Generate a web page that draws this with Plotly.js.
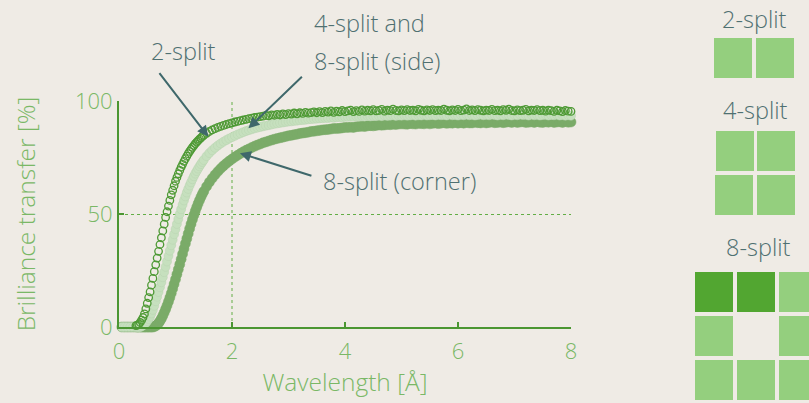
<!DOCTYPE html>
<html>
<head>
<meta charset="utf-8">
<script src="https://cdn.plot.ly/plotly-3.0.1.min.js"></script>
<style>
html,body{margin:0;padding:0;background:#efebe5;}
#chart{width:809px;height:403px;}
</style>
</head>
<body>
<div id="chart"></div>
<script>
// Wavelength [Å]
const wavelength = [
  0.05,0.1,0.15,0.2,0.25,0.3,
  0.325,0.35,0.375,0.4,0.425,0.45,0.475,0.5,
  0.525,0.55,0.575,0.6,0.625,0.65,0.675,0.7,
  0.725,0.75,0.775,0.8,0.825,0.85,0.875,0.9,
  0.925,0.95,0.975,1.0,1.025,1.05,1.075,1.1,
  1.125,1.15,1.175,1.2,1.225,1.25,1.275,1.3,
  1.325,1.35,1.375,1.4,1.425,1.45,1.475,1.5,
  1.55,1.6,1.65,1.7,1.75,1.8,1.85,1.9,1.95,2.0,
  2.05,2.1,2.15,2.2,2.25,2.3,2.35,2.4,2.45,2.5,
  2.55,2.6,2.65,2.7,2.75,2.8,2.85,2.9,2.95,3.0,
  3.05,3.1,3.15,3.2,3.25,3.3,3.35,3.4,3.45,3.5,
  3.55,3.6,3.65,3.7,3.75,3.8,3.85,3.9,3.95,4.0,
  4.05,4.1,4.15,4.2,4.25,4.3,4.35,4.4,4.45,4.5,
  4.55,4.6,4.65,4.7,4.75,4.8,4.85,4.9,4.95,5.0,
  5.05,5.1,5.15,5.2,5.25,5.3,5.35,5.4,5.45,5.5,
  5.55,5.6,5.65,5.7,5.75,5.8,5.85,5.9,5.95,6.0,
  6.05,6.1,6.15,6.2,6.25,6.3,6.35,6.4,6.45,6.5,
  6.55,6.6,6.65,6.7,6.75,6.8,6.85,6.9,6.95,7.0,
  7.05,7.1,7.15,7.2,7.25,7.3,7.35,7.4,7.45,7.5,
  7.55,7.6,7.65,7.7,7.75,7.8,7.85,7.9,7.95,8.0
];

// Brilliance transfer [%] — 2-split
const split2 = [
  null,null,null,null,null,0.6,
  0.8,1.2,2,3,4.2,5.8,8,10.5,
  13,15.5,18.5,21.5,24.5,27.5,30.5,33.5,
  36.5,39.5,42.5,45.5,48.5,51,53.5,56,
  58.5,60.5,62.5,64.5,66.2,67.8,69.3,70.7,
  72,73.3,74.5,75.6,76.7,77.7,78.6,79.5,
  80.3,81.1,81.8,82.5,83.1,83.7,84.3,84.8,
  85.7,86.5,87.2,87.8,88.3,88.8,89.2,89.6,90.0,90.3,
  90.7,91.0,91.3,91.6,91.9,92.2,92.4,92.7,92.9,93.1,
  93.3,93.6,93.4,93.9,93.7,94.1,93.8,94.3,94.0,94.4,
  94.2,94.7,94.3,94.8,94.5,95.0,94.6,94.9,95.2,94.8,
  95.3,94.9,95.4,95.1,95.6,95.0,95.5,95.2,95.8,95.3,
  95.6,96.0,95.3,95.7,95.4,96.1,95.5,95.9,95.6,96.2,
  95.6,95.8,96.3,95.5,96.0,95.7,96.4,95.8,95.6,96.1,
  95.7,96.2,95.8,96.0,95.6,96.3,95.9,95.6,96.1,95.8,
  96.2,95.7,96.0,95.8,96.4,95.9,95.6,96.1,95.8,96.3,
  95.7,96.0,96.5,95.8,96.1,95.7,96.2,95.9,95.6,96.0,
  95.8,96.3,95.7,96.0,95.6,96.2,95.9,96.4,95.8,95.6,
  96.1,95.7,95.9,96.3,95.6,96.0,95.8,96.2,95.7,95.9,
  95.5,96.0,95.7,95.4,95.9,95.6,95.3,95.8,95.5,95.4
];

// 4-split and 8-split (side)
const split4 = [
  0,0,0,0,0,0,
  0,0,0,0.3,0.7,1.2,1.8,2.6,
  3.5,4.6,6,7.6,9.4,11.4,13.4,15.5,
  17.6,19.8,22,24.3,26.6,29,31.4,33.8,
  36.2,38.6,41,43.3,45.6,47.8,50,52.1,
  54.1,56,57.8,59.5,61.1,62.6,64,65.4,
  66.7,67.9,69,70.1,71.1,72.1,73,73.9,
  75.6,77.0,78.2,79.3,80.3,81.2,82.0,82.7,83.4,84.0,
  84.6,85.2,85.7,86.2,86.7,87.1,87.5,87.9,88.2,88.5,
  88.8,89.1,89.3,89.6,89.9,90.1,90.3,90.5,90.7,90.9,
  91.0,91.2,91.3,91.5,91.6,91.7,91.9,92.0,92.1,92.2,
  92.3,92.4,92.5,92.5,92.7,92.6,92.8,92.9,92.8,93.0,
  93.0,93.1,93.0,93.2,93.1,93.3,93.2,93.4,93.2,93.4,
  93.3,93.5,93.3,93.6,93.4,93.5,93.7,93.4,93.6,93.5,
  93.7,93.5,93.6,93.8,93.5,93.7,93.6,93.9,93.6,93.7,
  93.8,93.6,93.9,93.7,93.8,93.6,94.0,93.7,93.8,93.6,
  93.9,93.7,94.0,93.7,93.9,93.6,93.8,94.0,93.7,93.9,
  93.7,94.0,93.8,93.6,93.9,93.7,94.0,93.8,93.6,93.9,
  93.7,94.0,93.8,93.9,93.6,94.0,93.7,93.9,93.6,93.8,
  93.9,93.6,93.8,93.7,94.0,93.6,93.8,93.5,93.7,93.5
];

// 8-split (corner)
const split8corner = [
  0,0,0,0,0,0,
  0,0,0,0,0,0,0,0,
  0,0,0,0,0.2,0.5,1.0,1.7,
  2.6,3.7,5.0,6.4,7.9,9.5,11.2,13.0,
  14.9,16.9,19.0,21.1,23.3,25.5,27.7,30.0,
  32.3,34.6,36.9,39.1,41.3,43.5,45.6,47.6,
  49.5,51.3,53.0,54.6,56.1,57.5,58.8,60.0,
  62.2,64.1,65.8,67.4,68.8,70.1,71.3,72.4,73.4,74.3,
  75.2,76.0,76.8,77.5,78.2,78.8,79.4,80.0,80.5,81.0,
  81.5,81.9,82.3,82.7,83.1,83.4,83.7,84.0,84.3,84.6,
  84.8,85.1,85.3,85.6,85.8,86.0,86.2,86.5,86.6,86.8,
  87.0,87.2,87.3,87.4,87.6,87.8,87.8,87.9,88.1,88.3,
  88.3,88.4,88.3,88.6,88.7,88.8,88.7,89.0,89.1,89.0,
  89.2,89.4,89.3,89.4,89.6,89.5,89.7,89.6,89.8,89.9,
  89.8,89.7,90.0,89.9,89.8,90.1,90.0,89.9,90.2,89.9,
  90.1,90.3,90.0,90.2,90.4,90.1,90.3,90.2,90.5,90.2,
  90.4,90.2,90.5,90.3,90.3,90.6,90.4,90.3,90.6,90.3,
  90.5,90.7,90.4,90.5,90.7,90.4,90.6,90.8,90.5,90.8,
  90.5,90.7,90.8,90.5,90.6,90.8,90.5,90.9,90.6,90.5,
  90.8,90.6,90.9,90.5,90.7,90.8,90.5,90.9,90.6,90.7
];

const xTicks = [0, 2, 4, 6, 8];
const yTicks = [0, 50, 100];

const txtColor = '#4f7071';
const axisGreen = '#4b9632';
const labelGreen = '#7ab866';
const sqLight = '#94cf7e';
const sqDark = '#52a631';

const traces = [
  {x: wavelength, y: split8corner, name: '8-split (corner)', type: 'scatter', mode: 'markers',
   cliponaxis: false,
   marker: {symbol: 'circle', size: 10, color: '#7aab68', line: {color: '#7aab68', width: 0.5}}},
  {x: wavelength, y: split4, name: '4-split and 8-split (side)', type: 'scatter', mode: 'markers',
   cliponaxis: false,
   marker: {symbol: 'circle', size: 9, color: '#c6e0be', line: {color: '#b9d3b1', width: 0.5}}},
  {x: wavelength, y: split2, name: '2-split', type: 'scatter', mode: 'markers',
   cliponaxis: false,
   marker: {symbol: 'circle-open', size: 7.5, color: '#4e9a35', line: {color: '#4e9a35', width: 1.3}}}
];

// helpers to place decorations in pixel terms relative to plot area
const L = 119, R = 571, T = 101, B = 327;
const PX = p => (p - L) / (R - L);
const PY = p => (B - p) / (B - T);

const shapes = [
  {type: 'line', xref: 'x', yref: 'paper', x0: 2, x1: 2, y0: 0, y1: 1,
   line: {color: '#62ad45', width: 1, dash: 'dot'}, layer: 'below'}
];
function sq(x0, y0, x1, y1, c) {
  shapes.push({type: 'rect', xref: 'paper', yref: 'paper',
    x0: PX(x0), x1: PX(x1), y0: PY(y1), y1: PY(y0),
    fillcolor: c, line: {width: 0}});
}
// 2-split icon
sq(714, 38, 752, 78, sqLight); sq(756, 38, 794, 78, sqLight);
// 4-split icon
sq(716, 131, 754, 171, sqLight); sq(757, 131, 795, 171, sqLight);
sq(715, 175, 753, 215, sqLight); sq(757, 175, 795, 215, sqLight);
// 8-split icon
sq(695, 272, 733, 312, sqDark); sq(737, 272, 775, 312, sqDark); sq(779, 272, 817, 312, sqLight);
sq(695, 316, 733, 356, sqLight); sq(779, 316, 817, 356, sqLight);
sq(695, 360, 733, 400, sqLight); sq(737, 360, 775, 400, sqLight); sq(779, 360, 817, 400, sqLight);

const annFont = {family: 'Open Sans', size: 23.5, color: txtColor, weight: 300};
const arrowStyle = {showarrow: true, arrowhead: 2, arrowsize: 1.1, arrowwidth: 2, arrowcolor: '#3f686b', text: ''};

function label(text, px, py, anchor) {
  return {text: text, xref: 'paper', yref: 'paper', x: PX(px), y: PY(py),
    xanchor: anchor, yanchor: 'middle', showarrow: false, font: annFont};
}

const annotations = [
  Object.assign({x: 1.58, y: 84.2, xref: 'x', yref: 'y', ax: -50, ay: -65}, arrowStyle),
  Object.assign({x: 2.29, y: 87.9, xref: 'x', yref: 'y', ax: 55, ay: -53}, arrowStyle),
  Object.assign({x: 2.14, y: 76.9, xref: 'x', yref: 'y', ax: 73, ay: 23}, arrowStyle),
  label('2-split', 183, 51, 'center'),
  label('4-split and', 312, 23, 'left'),
  label('8-split (side)', 312, 61, 'left'),
  label('8-split (corner)', 321, 181, 'left'),
  label('2-split', 754, 19, 'center'),
  label('4-split', 755, 110, 'center'),
  label('8-split', 758, 247, 'center')
];

const axFont = {family: 'Open Sans', size: 22, color: labelGreen, weight: 300};
const titleFont = {family: 'Open Sans', size: 24.5, color: labelGreen, weight: 300};

const layout = {
  width: 809, height: 403,
  margin: {l: L, r: 809 - R, t: T, b: 403 - B, pad: 0},
  paper_bgcolor: '#efebe5', plot_bgcolor: '#efebe5',
  font: {family: 'Open Sans', size: 20, color: labelGreen, weight: 300},
  showlegend: false,
  xaxis: {
    range: [0, 8], tickvals: xTicks, ticktext: xTicks.map(String),
    showline: true, linecolor: axisGreen, linewidth: 2,
    ticks: 'inside', ticklen: 5, tickwidth: 2, tickcolor: axisGreen,
    ticklabelstandoff: 4,
    showgrid: false, zeroline: false,
    tickfont: axFont,
    title: {text: 'Wavelength [Å]', font: titleFont, standoff: 5}
  },
  yaxis: {
    range: [0, 100], tickvals: yTicks, ticktext: yTicks.map(String),
    showline: true, linecolor: axisGreen, linewidth: 2,
    ticks: 'inside', ticklen: 5, tickwidth: 2, tickcolor: axisGreen,
    ticklabelstandoff: 0,
    showgrid: true, gridcolor: '#62ad45', gridwidth: 1, griddash: 'dot',
    zeroline: false,
    tickfont: axFont,
    title: {text: 'Brilliance transfer [%]', font: titleFont, standoff: 32}
  },
  shapes: shapes,
  annotations: annotations
};

Plotly.newPlot('chart', traces, layout, {displayModeBar: false, staticPlot: true});
</script>
</body>
</html>
